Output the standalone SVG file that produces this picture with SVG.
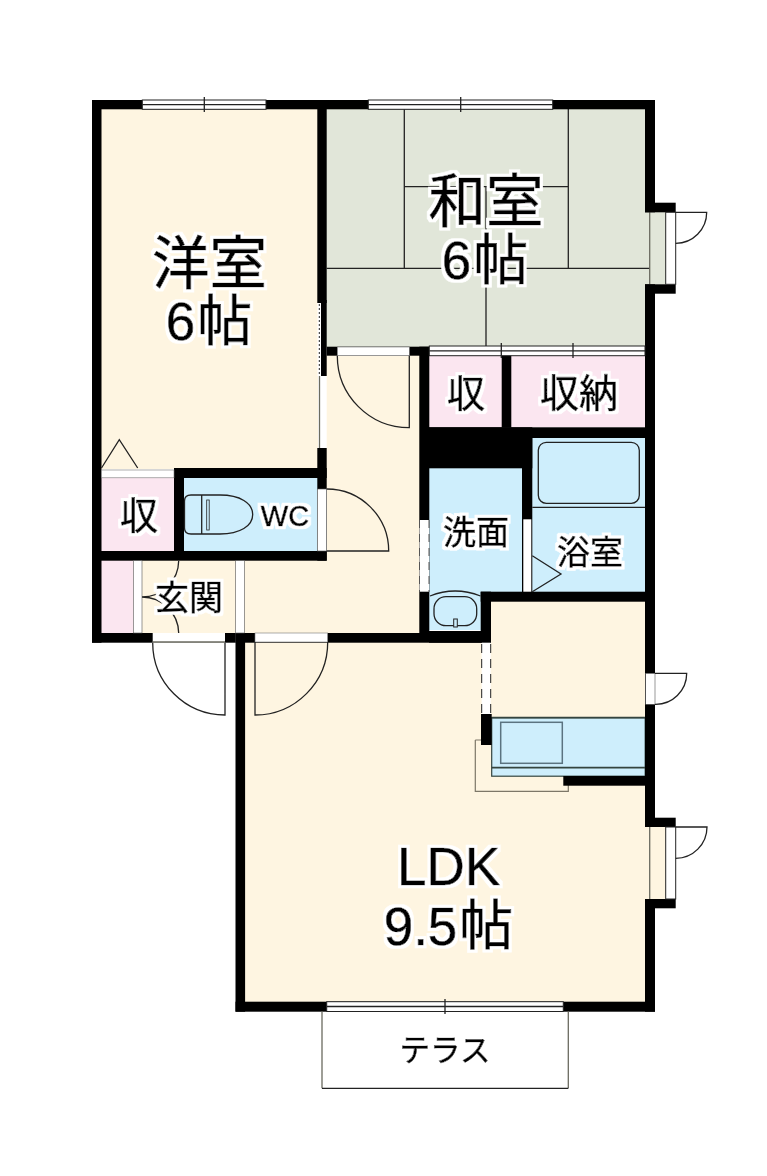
<svg xmlns="http://www.w3.org/2000/svg" width="767" height="1176" viewBox="0 0 767 1176">
<style>
.w{fill:#000}
.cream{fill:#fef5e1}.green{fill:#e1e6d9}.pink{fill:#fbe6f0}.blue{fill:#ceeefc}
.o{fill:#fff}
.ln{fill:none;stroke:#222;stroke-width:1.3}
.gl{fill:none;stroke:#6b6b60;stroke-width:1.3}
.win{fill:#fff;stroke:#222;stroke-width:1}
.t{font-family:"Noto Sans CJK JP","Noto Sans",sans-serif;fill:#000;text-anchor:middle;stroke:#000;stroke-width:.7;filter:url(#halo)}
.l{font-family:"Liberation Sans",Arial,sans-serif}
</style>
<defs>
<filter id="halo" x="-20%" y="-20%" width="140%" height="140%">
<feMorphology in="SourceAlpha" operator="dilate" radius="2.500" result="d"/>
<feFlood flood-color="#fff"/>
<feComposite in2="d" operator="in" result="h"/>
<feMerge><feMergeNode in="h"/><feMergeNode in="SourceGraphic"/></feMerge>
</filter>
</defs>
<rect width="767" height="1176" fill="#fff"/>

<g id="floors">
<rect class="cream" x="101" y="109" width="217" height="360"/>
<rect class="green" x="326" y="109" width="320" height="238"/>
<rect class="cream" x="326" y="355" width="94" height="278"/>
<rect class="cream" x="142" y="560" width="278" height="73"/>
<rect class="cream" x="245" y="642" width="401" height="360"/>
<rect class="cream" x="491" y="601" width="155" height="120"/>
<rect class="pink" x="101" y="477" width="73" height="74"/>
<rect class="pink" x="101" y="560" width="33" height="73"/>
<rect class="blue" x="183" y="477" width="135" height="74"/>
<rect class="pink" x="429" y="355" width="73" height="72"/>
<rect class="pink" x="511" y="355" width="135" height="72"/>
<rect class="blue" x="429" y="468" width="93" height="124"/>
<rect class="blue" x="429" y="591" width="52" height="40"/>
<rect class="blue" x="532" y="438" width="113.500" height="154"/>
<rect class="green" x="645" y="212" width="21" height="72.500"/>
<rect class="cream" x="645" y="827" width="21" height="72.500"/>
</g>

<g id="tatami">
<path class="ln" d="M404.300 109V268.300M404.300 186.700H568.300M568.300 109V268.300M326.700 268.300H650M486 186.700V346.700"/>
<path class="gl" d="M649.700 212.300V284.300"/>
</g>

<g id="kitchen">
<path d="M475.300 740H482M475.300 740V791.300H568.300V785" fill="none" stroke="#7d7768" stroke-width="1.200"/>
<rect class="blue" x="491.700" y="717.700" width="153.500" height="58.500" stroke="#34443f" stroke-width="1.200"/>
<path d="M491.700 717.700H645M491.700 767.700H645" stroke="#34443f" stroke-width="1.800" fill="none"/>
<rect x="500.700" y="722.300" width="61.600" height="41" fill="#ceeefc" stroke="#5b7380" stroke-width="1.500"/>
</g>

<g id="walls">
<rect class="w" x="92" y="100" width="563" height="9.300"/>
<rect class="w" x="92" y="100" width="9.500" height="542.700"/>
<rect class="w" x="92" y="633" width="143.500" height="9.700"/>
<rect class="w" x="235.500" y="633" width="255.500" height="9.700"/>
<rect class="w" x="235.500" y="633" width="9.600" height="378.700"/>
<rect class="w" x="235.500" y="1001.700" width="419.500" height="10"/>
<rect class="w" x="645" y="100" width="10" height="112.300"/>
<rect class="w" x="645" y="202.700" width="30.700" height="9.600"/>
<rect class="w" x="645" y="284.300" width="30.700" height="9.400"/>
<rect class="w" x="645" y="284.300" width="10" height="542.700"/>
<rect class="w" x="645" y="817.700" width="30.700" height="9.300"/>
<rect class="w" x="645" y="899" width="30.700" height="9.300"/>
<rect class="w" x="645" y="899" width="10" height="112.700"/>
<rect class="w" x="317.300" y="100" width="9.400" height="203"/>
<rect class="w" x="321" y="300" width="5.700" height="76"/>
<rect class="w" x="317.300" y="448" width="9.400" height="112.700"/>
<rect class="w" x="174" y="468" width="152.700" height="10"/>
<rect class="w" x="174" y="468" width="10" height="92"/>
<rect class="w" x="92" y="551" width="234.700" height="9.700"/>
<rect class="w" x="326.700" y="346.700" width="102.600" height="9"/>
<rect class="w" x="419.300" y="346.700" width="10" height="286.300"/>
<rect class="w" x="429" y="427.300" width="216" height="10.700"/>
<rect class="w" x="429" y="427.300" width="103.300" height="41"/>
<rect class="w" x="501.700" y="346.700" width="9.600" height="81"/>
<rect class="w" x="522" y="438" width="10.300" height="163"/>
<rect class="w" x="480.700" y="591.700" width="174" height="10"/>
<rect class="w" x="480.700" y="591.700" width="10.300" height="51"/>
<rect class="w" x="429" y="630.700" width="62" height="12"/>
<rect class="w" x="481" y="714" width="10.700" height="31"/>
<rect class="w" x="563.300" y="776" width="82" height="9.700"/>
</g>

<g id="openings">
<g id="window-yoshitsu">
<rect class="win" x="142.300" y="100" width="123.700" height="9.300"/>
<path class="ln" d="M142.300 104.700H266M204.300 97V112"/>
</g>
<g id="window-washitsu">
<rect class="win" x="368.300" y="100" width="184.400" height="9.300"/>
<path class="ln" d="M368.300 104.700H552.700M460.700 97V112"/>
</g>
<g id="closet-doors">
<rect class="win" x="429.300" y="346" width="215.700" height="9.700"/>
<path class="ln" d="M429.300 350.800H645M501.300 343V358M573 343V358"/>
</g>
<g id="window-ldk">
<rect class="win" x="326.700" y="1001.700" width="236.600" height="9.800"/>
<path class="ln" d="M326.700 1006.500H563.300M445 999V1014"/>
</g>
<rect class="o" x="101.500" y="470" width="72.500" height="7.800" stroke="#777" stroke-width="0.600"/>
<rect class="o" x="337.300" y="347" width="72" height="8.700" stroke="#777" stroke-width="0.600"/>
<rect class="o" x="319.500" y="376" width="7.200" height="72"/>
<path class="gl" d="M319.500 376V448"/>
<rect class="o" x="317.500" y="303" width="3.500" height="73"/>
<path d="M319.300 304V376" stroke="#222" stroke-width="1" stroke-dasharray="2 2" fill="none"/>
<rect class="o" x="317.300" y="489" width="9.400" height="62" stroke="#555" stroke-width="0.600"/>
<rect class="o" x="133.300" y="560.700" width="8.700" height="72.300" stroke="#555" stroke-width="0.600"/>
<rect class="o" x="235.700" y="560.700" width="8.700" height="72.300" stroke="#555" stroke-width="0.600"/>
<rect class="o" x="152.700" y="633" width="72.300" height="9.700"/>
<path class="gl" d="M152.700 642H225"/>
<rect class="o" x="255" y="633" width="72.700" height="9" stroke="#777" stroke-width="0.600"/>
<rect class="o" x="419.500" y="520" width="9.500" height="71.700"/>
<path d="M419.500 520V592M429 520V592" stroke="#555" stroke-width="1" stroke-dasharray="8 6" fill="none"/>
<rect class="o" x="523.300" y="519.300" width="8" height="72.400"/>
<rect class="o" x="481.700" y="642.700" width="9" height="71.300"/>
<path d="M481.700 644V714M490.700 644V714" stroke="#222" stroke-width="1" stroke-dasharray="9 6" fill="none"/>
<rect class="o" x="645.700" y="673.300" width="9.300" height="31" stroke="#555" stroke-width="0.600"/>
<rect class="win" x="665.700" y="212.300" width="10" height="72"/>
<rect class="win" x="665.700" y="827" width="10" height="72"/>
<path class="gl" d="M649.700 827V899"/>
</g>

<g id="door-swings" class="ln">
<path class="ln" d="M337.300 355.700A72 72 0 0 0 409.300 427.700V355.700"/>
<path class="ln" d="M326.700 489A62 62 0 0 1 388.700 551H326.700"/>
<path class="ln" d="M225 642.700V715A72.300 72.300 0 0 1 152.700 642.700"/>
<path class="ln" d="M255 642V715A72.700 72.700 0 0 0 327.700 642"/>
<path class="ln" d="M675.700 212.300H706.700A31 31 0 0 1 675.700 243.300"/>
<path class="ln" d="M675.700 827H707A31.300 31.300 0 0 1 675.700 858.300"/>
<path class="ln" d="M655 673.300H686.700A31 31 0 0 1 655 704.300"/>
<path class="ln" d="M142 597A36.700 36.700 0 0 0 178.700 560.700M142 597A36.700 36.700 0 0 1 178.700 633"/>
<path class="ln" d="M101.500 468L119.300 439.700L137.700 468"/>
<path class="ln" d="M532.300 555.700L561 574L532.300 591.700"/>
<path class="gl" d="M322 1011.500V1088.300M568.300 1011.500V1088.300"/>
<path class="ln" d="M322 1088.300H568.300"/>
</g>

<g id="bath">
<path d="M532.300 507.300H645" stroke="#222" stroke-width="1.300" fill="none"/>
<rect x="538.300" y="442.300" width="101" height="61" rx="8" class="ln" stroke="#333"/>
</g>
<g id="washbasin">
<path class="ln" d="M430 596Q455 586 480.500 596"/>
<rect class="ln" x="434" y="596.700" width="42.700" height="29" rx="12"/>
<rect x="453.700" y="619" width="3.600" height="8" fill="#ceeefc" stroke="#222" stroke-width="1"/>
<path d="M429.500 630.500H480.500" stroke="#fff" stroke-width="1"/>
</g>
<g id="toilet">
<path class="ln" d="M201.700 495H191Q184.500 495 184.500 501V528Q184.500 534 191 534H201.700M201.700 495V534M201.700 495H220C240 495 252.700 503 252.700 514.500C252.700 526 240 534 220 534H201.700"/>
<rect x="206.700" y="500" width="2.500" height="30" fill="none" stroke="#222" stroke-width="0.800"/>
</g>

<g id="labels">
<text class="t" x="209.500" y="284" font-size="57.500">洋室</text>
<text class="t" x="209" y="340" font-size="55"><tspan class="l" font-size="53">6</tspan><tspan dx="2">帖</tspan></text>
<text class="t" x="486" y="222" font-size="57.500">和室</text>
<text class="t" x="485" y="279" font-size="55"><tspan class="l" font-size="53">6</tspan><tspan dx="2">帖</tspan></text>
<text class="t" x="466" y="407" font-size="38">収</text>
<text class="t" x="579" y="407" font-size="39">収納</text>
<text class="t" x="139" y="529" font-size="38">収</text>
<text class="t l" x="285" y="526" font-size="29">WC</text>
<text class="t" x="189" y="610" font-size="34">玄関</text>
<text class="t" x="476" y="544" font-size="33">洗面</text>
<text class="t" x="590" y="564" font-size="33">浴室</text>
<text class="t l" x="448.500" y="885" font-size="53">LDK</text>
<text class="t" x="448.500" y="945" font-size="54"><tspan class="l" font-size="53">9.5</tspan><tspan dx="2">帖</tspan></text>
<text class="t" x="445" y="1061" font-size="30.500">テラス</text>
</g>
</svg>
